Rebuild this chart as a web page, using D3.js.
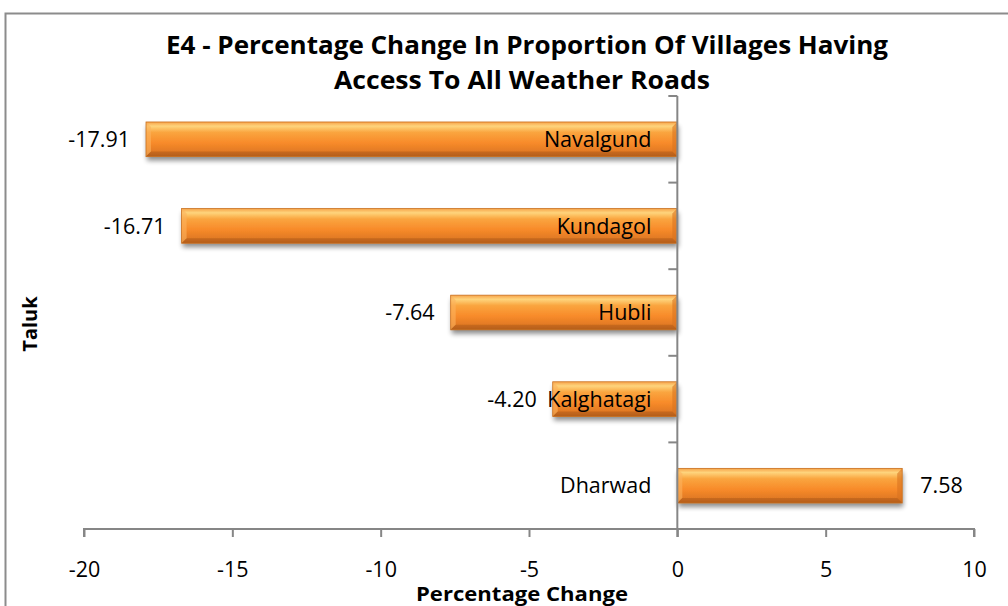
<!DOCTYPE html>
<html><head><meta charset="utf-8">
<script src="https://cdn.jsdelivr.net/npm/d3@7"></script>
<style>body{margin:0;background:#fff;}svg{display:block;}</style>
</head><body>
<svg id="c" width="1008" height="606"></svg>
<script>
const categories = ["Navalgund","Kundagol","Hubli","Kalghatagi","Dharwad"];
const values = [-17.91,-16.71,-7.64,-4.20,7.58];
const xTicks = [-20,-15,-10,-5,0,5,10];
const titleLines = ["E4 - Percentage Change In Proportion Of Villages Having","Access To All Weather Roads"];
const xTitle = "Percentage Change";
const yTitle = "Taluk";

const svg = d3.select("#c");
const font = "Open Sans, Liberation Sans, sans-serif";
const W = 1008, H = 606;
const m = {l:84, r:974, t:96, b:529};
const fs = 21.5;

svg.append("rect").attr("x",5.5).attr("y",13.5).attr("width",W+10).attr("height",H+10)
  .attr("fill","#fff").attr("stroke","#8c8c8c").attr("stroke-width",2);

const defs = svg.append("defs");
const g1 = defs.append("linearGradient").attr("id","bg").attr("x1",0).attr("y1",0).attr("x2",0).attr("y2",1);
[[0,"#f7a34a"],[0.12,"#fed47c"],[0.3,"#faa53f"],[0.6,"#f88b2a"],[0.85,"#e27a24"],[1,"#b8611c"]].forEach(s=>g1.append("stop").attr("offset",s[0]).attr("stop-color",s[1]));
const f = defs.append("filter").attr("id","sh").attr("x","-5%").attr("y","-30%").attr("width","110%").attr("height","180%");
f.append("feGaussianBlur").attr("in","SourceAlpha").attr("stdDeviation",2.5);
f.append("feOffset").attr("dx",1).attr("dy",4).attr("result","o");
f.append("feComponentTransfer").append("feFuncA").attr("type","linear").attr("slope",0.45);
const fm = f.append("feMerge"); fm.append("feMergeNode"); fm.append("feMergeNode").attr("in","SourceGraphic");

const x = d3.scaleLinear().domain([-20,10]).range([m.l,m.r]);
const y = d3.scaleBand().domain(categories).range([m.t,m.b]).paddingInner(0.6).paddingOuter(0.3);

// bars
const bars = svg.append("g").selectAll("g").data(categories).join("g");
bars.each(function(c,i){
  const v = values[i];
  const x0 = x(Math.min(0,v)), x1 = x(Math.max(0,v));
  const yy = y(c), h = y.bandwidth();
  const g = d3.select(this);
  g.append("rect").attr("x",x0).attr("y",yy).attr("width",x1-x0).attr("height",h)
    .attr("fill","url(#bg)").attr("filter","url(#sh)");
  const b = 5;
  g.append("path").attr("d",`M${x0},${yy}L${x0+b},${yy+b}L${x0+b},${yy+h-b}L${x0},${yy+h}Z`).attr("fill","#fbb25e").attr("opacity",0.6);
  g.append("path").attr("d",`M${x1},${yy}L${x1-b},${yy+b}L${x1-b},${yy+h-b}L${x1},${yy+h}Z`).attr("fill","#d8731f").attr("opacity",0.6);
  g.append("path").attr("d",`M${x0},${yy+h}L${x0+b},${yy+h-b}L${x1-b},${yy+h-b}L${x1},${yy+h}Z`).attr("fill","#b05a18").attr("opacity",0.5);
  g.append("rect").attr("x",x0).attr("y",yy).attr("width",x1-x0).attr("height",h).attr("fill","none").attr("stroke","#c8701f").attr("stroke-width",0.8);
});

// axes
const axisColor = "#868686";
const xa = svg.append("g").attr("transform",`translate(0,${m.b})`)
  .call(d3.axisBottom(x).tickValues(xTicks).tickSize(8).tickFormat(d3.format("d")));
xa.select(".domain").attr("stroke",axisColor).attr("stroke-width",2).attr("d",`M${m.l},8V0H${m.r}V8`);
xa.selectAll(".tick line").attr("stroke",axisColor).attr("stroke-width",2);
xa.selectAll(".tick text").attr("font-family",font).attr("font-size",fs).attr("fill","#000").attr("y",33).attr("dy","0.71em")
  .text(d=>d<0?"-"+Math.abs(d):d);

const yTickPos = d3.range(categories.length+1).map(i=>m.t+i*(m.b-m.t)/categories.length);
const ya = svg.append("g");
ya.append("line").attr("x1",x(0)).attr("x2",x(0)).attr("y1",m.t).attr("y2",m.b+8).attr("stroke",axisColor).attr("stroke-width",2);
ya.selectAll("line.t").data(yTickPos.slice(0,-1)).join("line").attr("class","t")
  .attr("x1",x(0)-9).attr("x2",x(0)).attr("y1",d=>d).attr("y2",d=>d).attr("stroke",axisColor).attr("stroke-width",2);

// category labels
svg.append("g").selectAll("text").data(categories).join("text")
  .attr("x",x(0)-26).attr("y",c=>y(c)+y.bandwidth()/2).attr("dy","0.36em").attr("text-anchor","end")
  .attr("font-family",font).attr("font-size",fs).attr("fill","#000").text(c=>c);

// value labels
svg.append("g").selectAll("text").data(values).join("text")
  .attr("x",v=>v<0?x(v)-16:x(v)+18).attr("y",(v,i)=>y(categories[i])+y.bandwidth()/2).attr("dy","0.36em")
  .attr("text-anchor",v=>v<0?"end":"start")
  .attr("font-family",font).attr("font-size",fs).attr("fill","#000").text(v=>v.toFixed(2));

// titles
const tg = svg.append("g");
tg.append("text").attr("x",527).attr("y",54).attr("text-anchor","middle").attr("font-family",font).attr("font-weight","bold").attr("font-size",25)
  .attr("textLength",722).attr("lengthAdjust","spacingAndGlyphs").text(titleLines[0]);
tg.append("text").attr("x",522).attr("y",89).attr("text-anchor","middle").attr("font-family",font).attr("font-weight","bold").attr("font-size",25)
  .attr("textLength",376).attr("lengthAdjust","spacingAndGlyphs").text(titleLines[1]);
svg.append("text").attr("x",522).attr("y",601).attr("text-anchor","middle").attr("font-family",font).attr("font-weight","bold").attr("font-size",19)
  .attr("textLength",212).attr("lengthAdjust","spacingAndGlyphs").text(xTitle);
svg.append("text").attr("transform","translate(37,324) rotate(-90)").attr("text-anchor","middle").attr("font-family",font).attr("font-weight","bold").attr("font-size",20)
  .text(yTitle);
</script>
</body></html>
